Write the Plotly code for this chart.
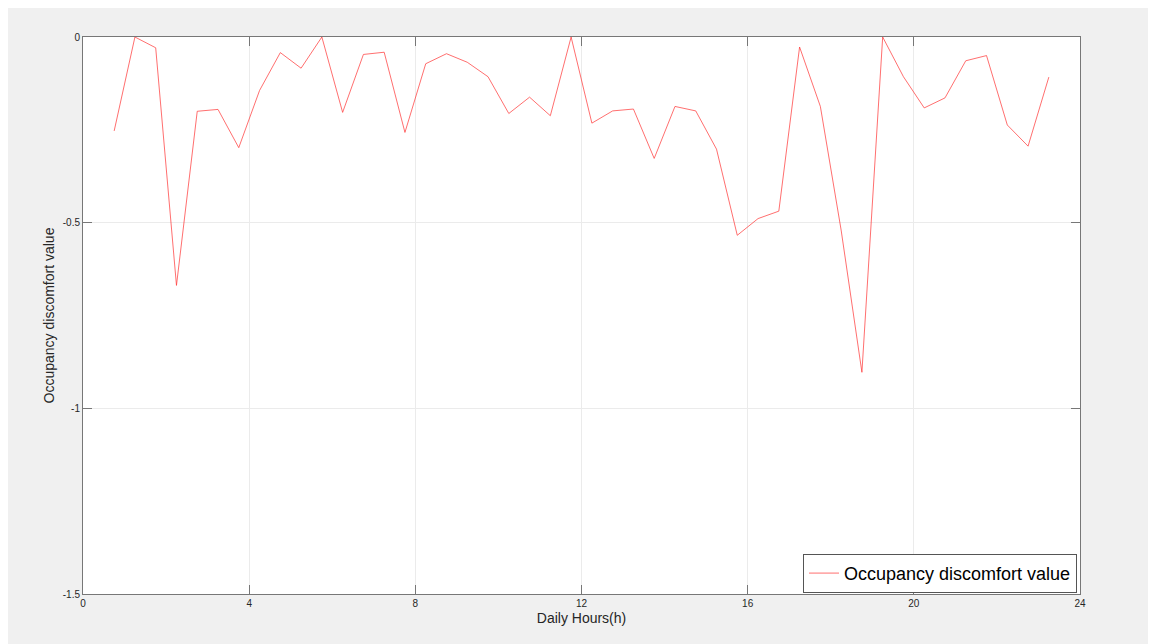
import plotly.graph_objects as go

hours = [0.75 + 0.5 * i for i in range(46)]
discomfort = [
    -0.253, 0.0, -0.029, -0.669, -0.200, -0.195, -0.298, -0.144, -0.042, -0.084,
    0.0, -0.203, -0.047, -0.041, -0.257, -0.072, -0.045, -0.068, -0.107, -0.206,
    -0.162, -0.212, 0.0, -0.232, -0.199, -0.194, -0.327, -0.187, -0.199, -0.302,
    -0.534, -0.489, -0.469, -0.027, -0.187, -0.52, -0.903, 0.0, -0.107, -0.191,
    -0.164, -0.064, -0.050, -0.237, -0.294, -0.108,
]
x_ticks = [0, 4, 8, 12, 16, 20, 24]
y_ticks = [0, -0.5, -1, -1.5]
y_tick_labels = ["0", "-0.5", "-1", "-1.5"]

fig = go.Figure()
fig.add_trace(go.Scatter(
    x=hours, y=discomfort, mode="lines",
    line=dict(color="#ff3030", width=0.7),
    name="Occupancy discomfort value",
))

axis_common = dict(
    showline=True, linecolor="#777777", linewidth=1, mirror="ticks",
    ticks="inside", ticklen=9, tickcolor="#777777", tickwidth=1,
    showgrid=True, gridcolor="#ebebeb", gridwidth=1, zeroline=False,
    tickfont=dict(family="Liberation Sans, Arial, sans-serif", size=10, color="#262626"),
)

fig.update_layout(
    width=1156, height=644,
    paper_bgcolor="#f0f0f0", plot_bgcolor="white",
    margin=dict(l=75, r=84, t=29, b=58),
    font=dict(family="Liberation Sans, Arial, sans-serif", color="#262626"),
    xaxis=dict(
        range=[0, 24], tickvals=x_ticks,
        title=dict(text="Daily Hours(h)", font=dict(size=14), standoff=5),
        **axis_common,
    ),
    yaxis=dict(
        range=[-1.5, 0], tickvals=y_ticks, ticktext=y_tick_labels,
        title=dict(text="Occupancy discomfort value", font=dict(size=14), standoff=4),
        **axis_common,
    ),
    showlegend=True,
    legend=dict(
        x=0.997, y=0.002, xanchor="right", yanchor="bottom",
        bgcolor="white", bordercolor="#555555", borderwidth=1,
        font=dict(size=18, color="black"),
        itemwidth=30, tracegroupgap=0,
    ),
)

fig.write_html("out.html")
